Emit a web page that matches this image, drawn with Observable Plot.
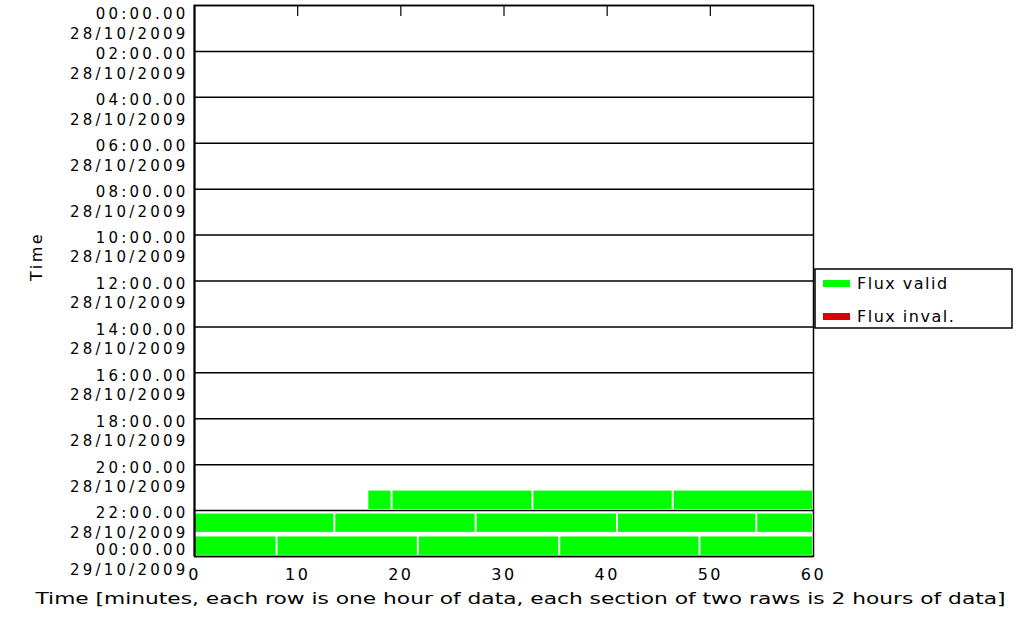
<!DOCTYPE html>
<html><head><meta charset="utf-8">
<script src="https://cdn.jsdelivr.net/npm/d3@7"></script>
<script src="https://cdn.jsdelivr.net/npm/@observablehq/plot@0.6"></script>
<style>body{margin:0;background:#fff} #chart{width:1016px;height:630px}</style>
</head><body><div id="chart"></div>
<script>
// Section boundaries (hours since 28/10/2009 00:00)
const sectionHours = [0, 2, 4, 6, 8, 10, 12, 14, 16, 18, 20, 22, 24];
const tickTimes = ["00:00.00","02:00.00","04:00.00","06:00.00","08:00.00","10:00.00","12:00.00","14:00.00","16:00.00","18:00.00","20:00.00","22:00.00","00:00.00"];
const tickDates = ["28/10/2009","28/10/2009","28/10/2009","28/10/2009","28/10/2009","28/10/2009","28/10/2009","28/10/2009","28/10/2009","28/10/2009","28/10/2009","28/10/2009","29/10/2009"];
const minuteTicks = [0, 10, 20, 30, 40, 50, 60];
const innerMinuteTicks = [10, 20, 30, 40, 50];

// Data segments: hour row, start minute, end minute, status
const segHour   = [21, 21, 21, 21, 22, 22, 22, 22, 22, 23, 23, 23, 23, 23];
const segStart  = [16.8, 19.15, 32.8, 46.4, 0, 13.6, 27.3, 41.0, 54.5, 0, 8.0, 21.7, 35.4, 49.0];
const segEnd    = [19.15, 32.8, 46.4, 60, 13.6, 27.3, 41.0, 54.5, 60, 8.0, 21.7, 35.4, 49.0, 60];
const segStatus = ["Flux valid","Flux valid","Flux valid","Flux valid","Flux valid","Flux valid","Flux valid","Flux valid","Flux valid","Flux valid","Flux valid","Flux valid","Flux valid","Flux valid"];

const legendLabels = ["Flux valid", "Flux inval."];
const legendColors = ["#00ff00", "#dd0000"];

const xCaption = "Time [minutes, each row is one hour of data, each section of two raws is 2 hours of data]";
const yCaption = "Time";

const segments = segHour.map((h, i) => ({hour: h, start: segStart[i], end: segEnd[i], status: segStatus[i]}));
const ticks = sectionHours.map((h, i) => ({h, label: tickTimes[i] + "\n" + tickDates[i]}));

const W = 1016, H = 630;
const mTop = 5, mBottom = 74, mLeft = 194, mRight = 203;

const labelOpts = {x: null, y: "h", text: "label", frameAnchor: "left", textAnchor: "end", lineAnchor: "top", lineHeight: 1.3, dx: -6, fontSize: 15};

const chart = Plot.plot({
  width: W, height: H,
  marginTop: mTop, marginBottom: mBottom, marginLeft: mLeft, marginRight: mRight,
  style: {fontFamily: "DejaVu Sans", fontSize: "16px", letterSpacing: "2.5px", color: "black", background: "white"},
  x: {domain: [0, 60], axis: null},
  y: {domain: [0, 24], reverse: true, axis: null},
  color: {domain: legendLabels, range: legendColors},
  marks: [
    Plot.rect(segments, {x1: "start", x2: "end", y1: d => d.hour + 0.15, y2: d => d.hour + 0.95, fill: "status", insetLeft: 1, insetRight: 1}),
    Plot.ruleY(sectionHours, {stroke: "black", strokeWidth: 1.5}),
    Plot.frame({stroke: "black", strokeWidth: 1.5}),
    Plot.ruleX([0], {stroke: "black", strokeWidth: 2}),
    Plot.vector(innerMinuteTicks, {x: d => d, frameAnchor: "top", length: 10, rotate: 180, anchor: "start", stroke: "black", strokeWidth: 1.2,
      shape: {draw(ctx, l) { ctx.moveTo(0, 0); ctx.lineTo(0, -l); }}}),
    Plot.text(ticks.filter(d => d.h === 0), {...labelOpts, dy: 0}),
    Plot.text(ticks.filter(d => d.h > 0 && d.h < 24), {...labelOpts, dy: -6}),
    Plot.text(ticks.filter(d => d.h === 24), {...labelOpts, dy: -15}),
    Plot.text(minuteTicks, {x: d => d, text: d => String(d), frameAnchor: "bottom", dy: 23, textAnchor: "middle"}),
    Plot.text([yCaption], {text: d => d, frameAnchor: "left", dx: -158, rotate: -90}),
    Plot.text([xCaption], {text: d => d, frameAnchor: "bottom", dy: 47, dx: 16.5, textAnchor: "middle"})
  ]
});

document.getElementById("chart").appendChild(chart);

// stretch the caption to the reference width; widen tick labels
const svg = d3.select(chart);
svg.selectAll("text").filter(function() { return this.textContent === xCaption; })
  .attr("textLength", 970).attr("lengthAdjust", "spacingAndGlyphs").style("letter-spacing", "0px");
svg.selectAll("text").filter(function() { return this.querySelector("tspan") !== null; })
  .style("letter-spacing", "3.2px");

// legend box to the right of the plot frame
const lg = svg.append("g").attr("aria-label", "legend");
lg.append("rect").attr("x", 815).attr("y", 269).attr("width", 197).attr("height", 59)
  .attr("fill", "white").attr("stroke", "black").attr("stroke-width", 1.5);
legendLabels.forEach((lab, i) => {
  const cy = 283 + i * 33;
  lg.append("rect").attr("x", 823).attr("y", cy - 3).attr("width", 27).attr("height", 7).attr("fill", legendColors[i]);
  lg.append("text").attr("x", 857).attr("y", cy + 6).attr("fill", "black").attr("text-anchor", "start")
    .style("font-family", "DejaVu Sans").style("font-size", "16px").style("letter-spacing", "1.5px").text(lab);
});
</script>
</body></html>
